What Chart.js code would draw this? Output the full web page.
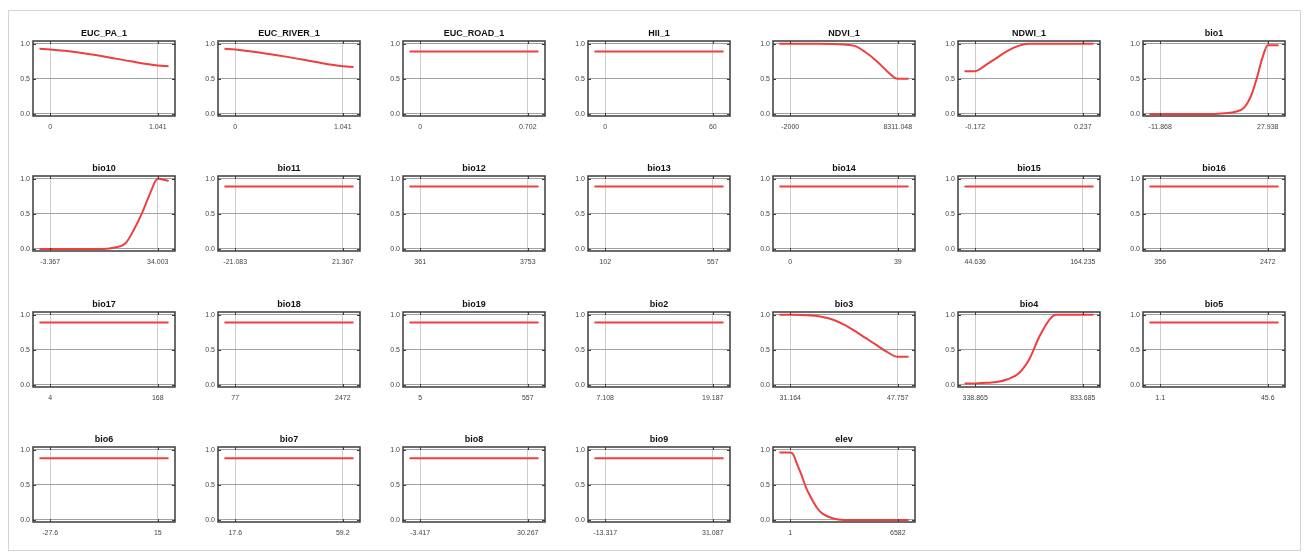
<!DOCTYPE html>
<html>
<head>
<meta charset="utf-8">
<script src="https://cdn.jsdelivr.net/npm/chart.js@4.4.0/dist/chart.umd.min.js"></script>
<style>
  html, body { margin: 0; padding: 0; background: #fff; }
  #fig { position: relative; width: 1309px; height: 555px; overflow: hidden; }
  #frame { position: absolute; left: 8px; top: 10px; width: 1291px; height: 539px; border: 1px solid #d4d4d4; }
  canvas { position: absolute; }
</style>
</head>
<body>
<div id="fig"><div id="frame"></div></div>
<script>
// panel titles, 7 per row
const titles = ['EUC_PA_1', 'EUC_RIVER_1', 'EUC_ROAD_1', 'HII_1', 'NDVI_1', 'NDWI_1', 'bio1',
  'bio10', 'bio11', 'bio12', 'bio13', 'bio14', 'bio15', 'bio16',
  'bio17', 'bio18', 'bio19', 'bio2', 'bio3', 'bio4', 'bio5',
  'bio6', 'bio7', 'bio8', 'bio9', 'elev'];

// x tick labels (min / max of each variable)
const xTicks = [
  ['0', '1.041'], ['0', '1.041'], ['0', '0.702'], ['0', '60'], ['-2000', '8311.048'], ['-0.172', '0.237'], ['-11.868', '27.938'],
  ['-3.367', '34.003'], ['-21.083', '21.367'], ['361', '3753'], ['102', '557'], ['0', '39'], ['44.636', '164.235'], ['356', '2472'],
  ['4', '168'], ['77', '2472'], ['5', '557'], ['7.108', '19.187'], ['31.164', '47.757'], ['338.865', '833.685'], ['1.1', '45.6'],
  ['-27.6', '15'], ['17.6', '59.2'], ['-3.417', '30.267'], ['-13.317', '31.087'], ['1', '6582']
];

const yTicks = [0, 0.5, 1];

// response curves (x values, y values)
const curveX = [
  [-0.104, 0, 0.26, 0.52, 0.78, 1.041, 1.145],
  [-0.104, 0, 0.26, 0.52, 0.78, 1.041, 1.145],
  [-0.07, 0.772],
  [-6, 66],
  [-3031, -2000, 578, 3156, 4187, 5218, 6249, 7280, 8311, 9342],
  [-0.213, -0.172, -0.131, -0.090, -0.049, -0.008, 0.033, 0.237, 0.278],
  [-15.849, -11.868, 8.035, 12.016, 15.996, 19.181, 21.967, 23.957, 25.948, 27.938, 31.919],
  [-7.104, -3.367, 15.318, 19.055, 22.792, 25.782, 28.398, 31.013, 34.003, 37.74],
  [-25.328, 25.612],
  [22, 4092],
  [56.5, 602.5],
  [-3.9, 42.9],
  [32.676, 176.195],
  [144.4, 2683.6],
  [-12.4, 184.4],
  [-162.5, 2711.5],
  [-50.2, 612.2],
  [5.9, 20.395],
  [29.505, 31.164, 34.483, 36.142, 37.801, 39.461, 41.12, 42.779, 44.438, 46.098, 47.757, 49.416],
  [289.383, 338.865, 388.347, 437.829, 487.311, 536.793, 586.275, 635.757, 685.239, 709.98, 833.685, 883.167],
  [-3.35, 50.05],
  [-31.86, 19.26],
  [13.44, 63.36],
  [-6.785, 33.635],
  [-17.757, 35.527],
  [-657, 1, 198, 396, 659, 988, 1317, 1646, 1975, 2633, 3291, 6582, 7240]
];
const curveY = [
  [0.93, 0.92, 0.88, 0.82, 0.75, 0.69, 0.68],
  [0.93, 0.92, 0.87, 0.81, 0.74, 0.68, 0.67],
  [0.89, 0.89],
  [0.89, 0.89],
  [1.0, 1.0, 1.0, 0.99, 0.97, 0.88, 0.76, 0.61, 0.50, 0.50],
  [0.61, 0.61, 0.70, 0.80, 0.90, 0.97, 1.0, 1.0, 1.0],
  [0, 0, 0, 0.01, 0.03, 0.09, 0.28, 0.52, 0.80, 0.98, 0.98],
  [0, 0, 0, 0.02, 0.08, 0.28, 0.50, 0.76, 1.0, 0.97],
  [0.89, 0.89],
  [0.89, 0.89],
  [0.89, 0.89],
  [0.89, 0.89],
  [0.89, 0.89],
  [0.89, 0.89],
  [0.89, 0.89],
  [0.89, 0.89],
  [0.89, 0.89],
  [0.89, 0.89],
  [1.0, 1.0, 0.99, 0.97, 0.93, 0.86, 0.77, 0.67, 0.57, 0.47, 0.40, 0.40],
  [0.02, 0.02, 0.03, 0.04, 0.08, 0.16, 0.36, 0.70, 0.95, 1.0, 1.0, 1.0],
  [0.89, 0.89],
  [0.88, 0.88],
  [0.88, 0.88],
  [0.88, 0.88],
  [0.88, 0.88],
  [0.96, 0.96, 0.93, 0.81, 0.66, 0.45, 0.30, 0.17, 0.09, 0.02, 0, 0, 0]
];

// layout of the grid of panels
const COLS = 7;
const colLeft0 = 33, colStep = 185, boxW = 142;
const rowTop0 = 41, rowStep = 135.3, boxH = 75;
const yAxisW = 30, xAxisH = 22, titleH = 18;

const FONT = "'Liberation Sans', Arial, sans-serif";

// box border, inward tick marks and a title centred over the box
const framePlugin = {
  id: 'boxFrame',
  afterDraw(chart) {
    const { ctx, chartArea: a, scales } = chart;
    ctx.save();
    ctx.strokeStyle = '#3c3c3c';
    ctx.lineWidth = 1.5;
    ctx.strokeRect(a.left, a.top, a.right - a.left, a.bottom - a.top);
    ctx.lineWidth = 1;
    ctx.beginPath();
    scales.x.ticks.forEach(t => {
      const px = Math.round(scales.x.getPixelForValue(t.value)) + 0.5;
      ctx.moveTo(px, a.top); ctx.lineTo(px, a.top + 3);
      ctx.moveTo(px, a.bottom); ctx.lineTo(px, a.bottom - 3);
    });
    scales.y.ticks.forEach(t => {
      const py = Math.round(scales.y.getPixelForValue(t.value)) + 0.5;
      ctx.moveTo(a.left, py); ctx.lineTo(a.left + 3, py);
      ctx.moveTo(a.right, py); ctx.lineTo(a.right - 3, py);
    });
    ctx.stroke();

    ctx.fillStyle = '#111';
    ctx.font = 'bold 9px ' + FONT;
    ctx.textAlign = 'center';
    ctx.textBaseline = 'alphabetic';
    ctx.fillText(chart.options.plugins.boxFrame.title, (a.left + a.right) / 2, a.top - 5);
    ctx.restore();
  }
};

const fig = document.getElementById('fig');

titles.forEach((title, i) => {
  const r = Math.floor(i / COLS), c = i % COLS;
  const lo = parseFloat(xTicks[i][0]), hi = parseFloat(xTicks[i][1]);
  const span = hi - lo;

  const cv = document.createElement('canvas');
  const w = yAxisW + boxW + 10, h = titleH + boxH + xAxisH;
  cv.width = w; cv.height = h;
  cv.style.left = (colLeft0 + c * colStep - yAxisW) + 'px';
  cv.style.top = Math.round(rowTop0 + r * rowStep - titleH) + 'px';
  fig.appendChild(cv);

  const pts = curveX[i].map((x, k) => ({ x, y: curveY[i][k] }));

  new Chart(cv.getContext('2d'), {
    type: 'line',
    data: {
      datasets: [{
        data: pts,
        borderColor: '#ef3e3e',
        borderWidth: 2,
        pointRadius: 0,
        cubicInterpolationMode: 'monotone',
        fill: false,
      }]
    },
    options: {
      responsive: false,
      animation: false,
      devicePixelRatio: 1,
      layout: { padding: { left: 0, right: 10, top: titleH, bottom: 0 } },
      plugins: {
        legend: { display: false },
        tooltip: { enabled: false },
        title: { display: false },
        boxFrame: { title },
      },
      scales: {
        x: {
          type: 'linear',
          min: lo - 0.16 * span, max: hi + 0.16 * span,
          afterBuildTicks: s => { s.ticks = [{ value: lo }, { value: hi }]; },
          afterFit: s => { s.height = xAxisH; },
          ticks: {
            callback: (v, k) => xTicks[i][k],
            font: { family: FONT, size: 7 }, color: '#444',
            padding: 7, maxRotation: 0, autoSkip: false,
          },
          grid: { color: '#cdcdcd', lineWidth: 1, drawTicks: false },
          border: { display: false },
        },
        y: {
          min: -0.03, max: 1.04,
          afterBuildTicks: s => { s.ticks = yTicks.map(v => ({ value: v })); },
          afterFit: s => { s.width = yAxisW; },
          ticks: {
            callback: v => v.toFixed(1),
            font: { family: FONT, size: 7 }, color: '#444',
            padding: 3,
          },
          grid: { color: '#a0a0a0', lineWidth: 1, drawTicks: false },
          border: { display: false },
        },
      },
    },
    plugins: [framePlugin],
  });
});
</script>
</body>
</html>
